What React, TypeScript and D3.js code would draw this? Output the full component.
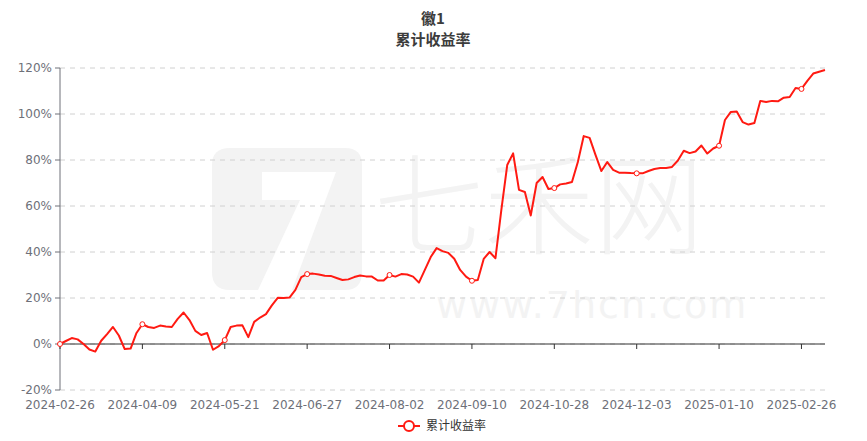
import * as d3 from 'd3';

// x-axis labels, one every 14 points
const tickLabels = [
  '2024-02-26', '2024-04-09', '2024-05-21', '2024-06-27', '2024-08-02',
  '2024-09-10', '2024-10-28', '2024-12-03', '2025-01-10', '2025-02-26',
];
const labelStep = 14;

// cumulative return (%)
const returns = [
  0.0, 1.3, 2.6, 2.0, 0.0, -2.4, -3.3, 1.4, 4.3, 7.4,
  3.7, -2.2, -2.0, 4.8, 8.6, 7.4, 7.0, 8.0, 7.6, 7.4,
  10.9, 13.7, 10.4, 5.7, 3.9, 4.8, -2.5, -0.9, 1.7, 7.4,
  8.0, 8.1, 3.0, 9.6, 11.5, 13.0, 16.8, 20.1, 20.0, 20.2,
  23.5, 29.1, 30.4, 30.6, 30.2, 29.7, 29.6, 28.7, 27.8, 28.1,
  29.1, 29.8, 29.4, 29.3, 27.6, 27.6, 30.0, 29.3, 30.4, 30.2,
  29.3, 26.7, 32.2, 37.8, 41.7, 40.4, 39.6, 37.1, 32.2, 29.3,
  27.5, 27.8, 37.0, 40.0, 37.3, 58.3, 77.8, 82.9, 67.0, 66.1,
  55.9, 70.0, 72.6, 67.4, 67.8, 69.4, 69.8, 70.4, 79.1, 90.4,
  89.6, 82.2, 75.2, 79.1, 75.7, 74.5, 74.5, 74.3, 74.2, 74.2,
  75.2, 76.1, 76.5, 76.5, 77.0, 79.8, 84.0, 83.0, 83.7, 86.3,
  82.8, 85.0, 86.2, 97.4, 100.9, 101.1, 96.5, 95.4, 96.1, 105.7,
  105.2, 105.7, 105.5, 107.1, 107.4, 111.3, 110.9, 114.4, 117.6, 118.4,
  119.1,
];
const yTicks = [-20, 0, 20, 40, 60, 80, 100, 120];

const seriesName = '累计收益率';
const RED = '#ff1a12';
const FONT = '"DejaVu Sans", sans-serif';
const CJK = '"Noto Sans CJK SC", sans-serif';

export default function App() {
  const width = 867;
  const height = 441;
  const margin = { top: 68, right: 42, bottom: 51, left: 60 };

  const x = d3.scaleLinear()
    .domain([0, returns.length - 1])
    .range([margin.left, width - margin.right]);
  const y = d3.scaleLinear()
    .domain([-20, 120])
    .range([height - margin.bottom, margin.top]);

  const line = d3.line<number>()
    .x((_, i) => x(i))
    .y(d => y(d));

  const markerIdx = tickLabels.map((_, i) => i * labelStep);
  const zeroY = y(0);

  return (
    <div style={{ position: 'absolute', left: 0, top: 0 }}>
      <svg width={width} height={height} style={{ display: 'block', background: '#fff' }}>
        {/* watermark */}
        <g fill="#f3f3f3">
          <path d="M230,148 H345 Q362,148 362,165 V272 Q362,290 345,290 H230 Q212,290 212,272 V165 Q212,148 230,148 Z" />
          <path d="M262,172 H336 L292,290 H258 L300,200 H262 Z" fill="#fff" />
          <text x={374} y={246} fontFamily={CJK} fontSize={110} fontWeight={300}>七禾网</text>
          <text x={436} y={318} fontFamily={FONT} fontSize={38} letterSpacing={2}>www.7hcn.com</text>
        </g>

        {/* grid */}
        {yTicks.map(t => (
          <line key={t} x1={margin.left} x2={width - margin.right} y1={y(t)} y2={y(t)}
            stroke="#d0d0d0" strokeDasharray="5,5" />
        ))}

        {/* y axis */}
        <line x1={margin.left} x2={margin.left} y1={y(120)} y2={y(-20)} stroke="#6e7079" />
        {yTicks.map(t => (
          <g key={t} transform={`translate(${margin.left},${y(t)})`}>
            <line x2={-5} stroke="#6e7079" />
            <text x={-8} dy="0.35em" textAnchor="end" fontFamily={FONT} fontSize={12} fill="#6e7079">
              {t + '%'}
            </text>
          </g>
        ))}

        {/* x axis on zero */}
        <line x1={margin.left} x2={width - margin.right} y1={zeroY} y2={zeroY} stroke="#333" />
        {markerIdx.map((idx, i) => (
          <g key={idx} transform={`translate(${x(idx)},0)`}>
            <line y1={zeroY} y2={zeroY + 5} stroke="#333" />
            <text y={y(-20) + 19} textAnchor="middle" fontFamily={FONT} fontSize={12} fill="#6e7079">
              {tickLabels[i]}
            </text>
          </g>
        ))}

        {/* series */}
        <path d={line(returns) || ''} fill="none" stroke={RED} strokeWidth={2} strokeLinejoin="round" />
        {markerIdx.map(idx => (
          <circle key={idx} cx={x(idx)} cy={y(returns[idx])} r={2.5} fill="#fff" stroke={RED} strokeWidth={1} />
        ))}

        {/* title */}
        <text x={433} y={24} textAnchor="middle" fontFamily={CJK} fontSize={15} fontWeight="bold" fill="#3c3c3c">徽1</text>
        <text x={433} y={45} textAnchor="middle" fontFamily={CJK} fontSize={15} fontWeight="bold" fill="#3c3c3c">{seriesName}</text>

        {/* legend */}
        <g transform="translate(409,426)">
          <line x1={-11} x2={11} stroke={RED} strokeWidth={2} />
          <circle r={5} fill="#fff" stroke={RED} strokeWidth={2} />
          <text x={17} dy="0.35em" fontFamily={CJK} fontSize={12} fill="#333">{seriesName}</text>
        </g>
      </svg>
    </div>
  );
}
